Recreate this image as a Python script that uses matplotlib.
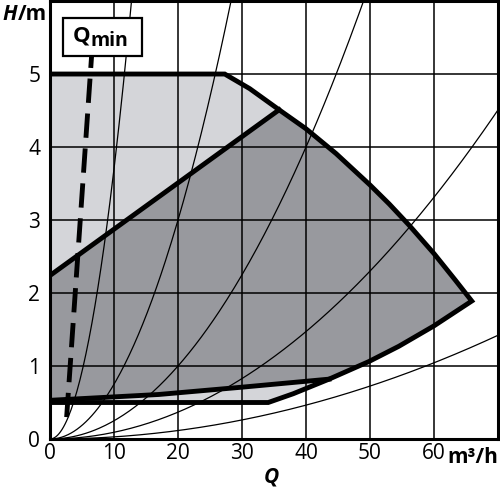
import matplotlib
matplotlib.use('Agg')
import matplotlib.pyplot as plt
import numpy as np
from matplotlib.patches import Rectangle

plt.rcParams['font.family'] = ['Open Sans', 'DejaVu Sans']

# ---- data ----
x_ticks = [0, 10, 20, 30, 40, 50, 60]
x_tick_labels = ['0', '10', '20', '30', '40', '50', '60']
y_ticks = [0, 1, 2, 3, 4, 5]
y_tick_labels = ['0', '1', '2', '3', '4', '5']

# upper limit (H max) line
top_q = [0.0, 27.3]
top_h = [5.0, 5.0]
# maximum speed curve
max_q = [27.3, 31.2, 35.8, 40.0, 44.7, 50.0, 53.0, 56.1, 60.0, 63.3, 65.9]
max_h = [5.0, 4.80, 4.51, 4.25, 3.91, 3.48, 3.22, 2.93, 2.54, 2.18, 1.89]
# lower right boundary (system curve)
low_q = [34.1, 38.0, 43.6, 49.8, 54.5, 60.0, 65.9]
low_h = [0.50, 0.62, 0.82, 1.06, 1.27, 1.55, 1.89]
# lower limit line
bot_q = [0.0, 34.1]
bot_h = [0.5, 0.5]
# dark region: upper control line and min speed line
dark_top_q = [0.0, 35.8]
dark_top_h = [2.24, 4.51]
dark_bot_q = [0.0, 17.0, 30.0, 43.6]
dark_bot_h = [0.53, 0.61, 0.71, 0.82]
# Qmin dashed line
qmin_q = [2.6, 6.5]
qmin_h = [0.30, 5.25]
# system curve coefficients H = k*Q^2
system_k = [0.037, 0.0075, 0.0025, 0.00092, 0.00029]

LIGHT = '#d4d5d9'
DARK = '#98999e'

fig = plt.figure(figsize=(5.0, 4.91), dpi=100)
ax = fig.add_axes([0.1, 0.1059, 0.896, 0.892])
ax.set_xlim(0, 70)
ax.set_ylim(0, 6)

# envelope polygon (light)
env_q = top_q + max_q[1:] + low_q[::-1][1:] + bot_q[::-1]
env_h = top_h + max_h[1:] + low_h[::-1][1:] + bot_h[::-1]
ax.fill(env_q, env_h, color=LIGHT, lw=0, zorder=1)

# dark polygon
i0 = max_q.index(35.8)
low_sel = [(q, h) for q, h in zip(low_q, low_h) if q >= 43.6]
low_sel_r = low_sel[::-1]
d_q = dark_top_q + max_q[i0 + 1:] + [p[0] for p in low_sel_r[1:]] + dark_bot_q[::-1][1:]
d_h = dark_top_h + max_h[i0 + 1:] + [p[1] for p in low_sel_r[1:]] + dark_bot_h[::-1][1:]
ax.fill(d_q, d_h, color=DARK, lw=0, zorder=2)

# grid
ax.set_xticks(x_ticks + [70])
ax.set_xticklabels(x_tick_labels + [''])
ax.set_yticks(y_ticks + [6])
ax.set_yticklabels(y_tick_labels + [''])
ax.grid(True, color='black', lw=1.1, zorder=3)
ax.set_axisbelow(False)
for gl in ax.get_xgridlines() + ax.get_ygridlines():
    gl.set_zorder(3)
ax.tick_params(length=0, labelsize=15)
ax.tick_params(axis='x', pad=3)
ax.tick_params(axis='y', pad=7)

# system curves
qq = np.linspace(0, 70, 300)
for k in system_k:
    ax.plot(qq, k * qq ** 2, color='black', lw=0.9, zorder=4)

# thick outlines
out_q = top_q + max_q[1:] + low_q[::-1][1:] + bot_q[::-1]
out_h = top_h + max_h[1:] + low_h[::-1][1:] + bot_h[::-1]
ax.plot(out_q, out_h, color='black', lw=3.5, zorder=6, solid_joinstyle='miter')
ax.plot(dark_top_q, dark_top_h, color='black', lw=3.5, zorder=6)
ax.plot(dark_bot_q, dark_bot_h, color='black', lw=3.5, zorder=6)

# Qmin dashed
ax.plot(qmin_q, qmin_h, color='black', lw=3.5, dashes=(5, 2.2), zorder=5)

# Qmin box
ax.add_patch(Rectangle((2.07, 5.25), 12.33, 0.52, facecolor='white',
                       edgecolor='black', lw=1.6, zorder=7))
ax.text(3.58, 5.45, 'Q', fontsize=16, fontweight='bold', va='baseline',
        ha='left', zorder=8)
ax.text(6.4, 5.38, 'min', fontsize=14, fontweight='bold', va='baseline',
        ha='left', zorder=8)

for s in ax.spines.values():
    s.set_linewidth(2.2)
    s.set_zorder(9)

fig.text(0.004, 0.959, 'H', fontsize=15, fontweight='bold', style='italic',
         va='baseline', ha='left')
fig.text(0.036, 0.959, '/m', fontsize=15, fontweight='bold',
         va='baseline', ha='left')
fig.text(0.996, 0.057, 'm³/h', fontsize=15, fontweight='bold',
         va='baseline', ha='right')
fig.text(0.543, 0.018, 'Q', fontsize=15, fontweight='bold', style='italic',
         va='baseline', ha='center')

fig.savefig('out.png', dpi=100)
